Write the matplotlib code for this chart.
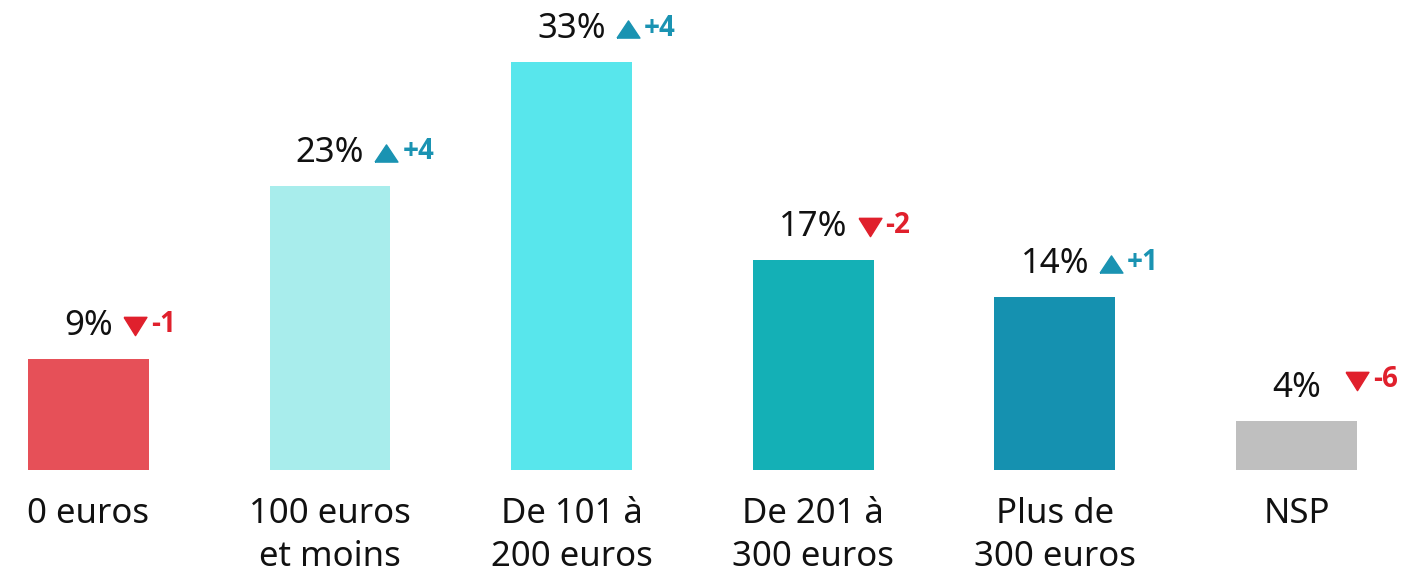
import matplotlib
matplotlib.use("Agg")
import matplotlib.pyplot as plt
from matplotlib.path import Path as MPath
from matplotlib.transforms import offset_copy

categories = ["0 euros", "100 euros\net moins", "De 101 à\n200 euros",
              "De 201 à\n300 euros", "Plus de\n300 euros", "NSP"]
values = [9, 23, 33, 17, 14, 4]
deltas = [-1, 4, 4, -2, 1, -6]

bar_colors = ["#E65058", "#A8EDEC", "#58E6EC", "#14B0B6", "#1591B0", "#BFBFBF"]
up_color = "#1A93B2"
down_color = "#E0202C"

plt.rcParams["font.family"] = ["Noto Sans", "DejaVu Sans"]

fig = plt.figure(figsize=(14.04, 5.71), dpi=100)
ax = fig.add_axes([0, 0, 1, 1])
ax.set_xlim(-0.366, 5.445)
ax.set_ylim(-8.17, 38.03)
ax.axis("off")

x = list(range(len(values)))
ax.bar(x, values, width=0.5, color=bar_colors)

up_tri = MPath([(-1, -0.75), (1, -0.75), (0, 0.75), (-1, -0.75)])
down_tri = MPath([(-1, 0.8), (1, 0.8), (0, -0.8), (-1, 0.8)])

renderer = fig.canvas.get_renderer()
for i, (v, d) in enumerate(zip(values, deltas)):
    lbl = ax.annotate(f"{v}%", (i, v), xytext=(0, 33), textcoords="offset pixels",
                      ha="center", va="center", fontsize=25, color="#111111")
    ext = lbl.get_window_extent(renderer)
    # triangle goes just right of the value text
    px = ext.x1 - ax.transData.transform((i, v))[0] + 22
    py = 33
    if i == len(values) - 1:
        px += 14
        py += 7
    tr = offset_copy(ax.transData, fig=fig, x=px, y=py, units="dots")
    color = up_color if d > 0 else down_color
    ax.plot([i], [v], marker=up_tri if d > 0 else down_tri, ms=16.5,
            color=color, transform=tr, clip_on=False)
    ax.annotate(f"{d:+d}", (i, v), xytext=(px + 16, py + 1), textcoords="offset pixels",
                ha="left", va="center", fontsize=20, fontweight="bold", color=color,
                family=["Open Sans", "DejaVu Sans"])

for i, c in enumerate(categories):
    ax.annotate(c, (i, 0), xytext=(0, -27), textcoords="offset pixels",
                ha="center", va="top", fontsize=25, color="#111111",
                linespacing=1.33)

fig.savefig("out.png", dpi=100)
